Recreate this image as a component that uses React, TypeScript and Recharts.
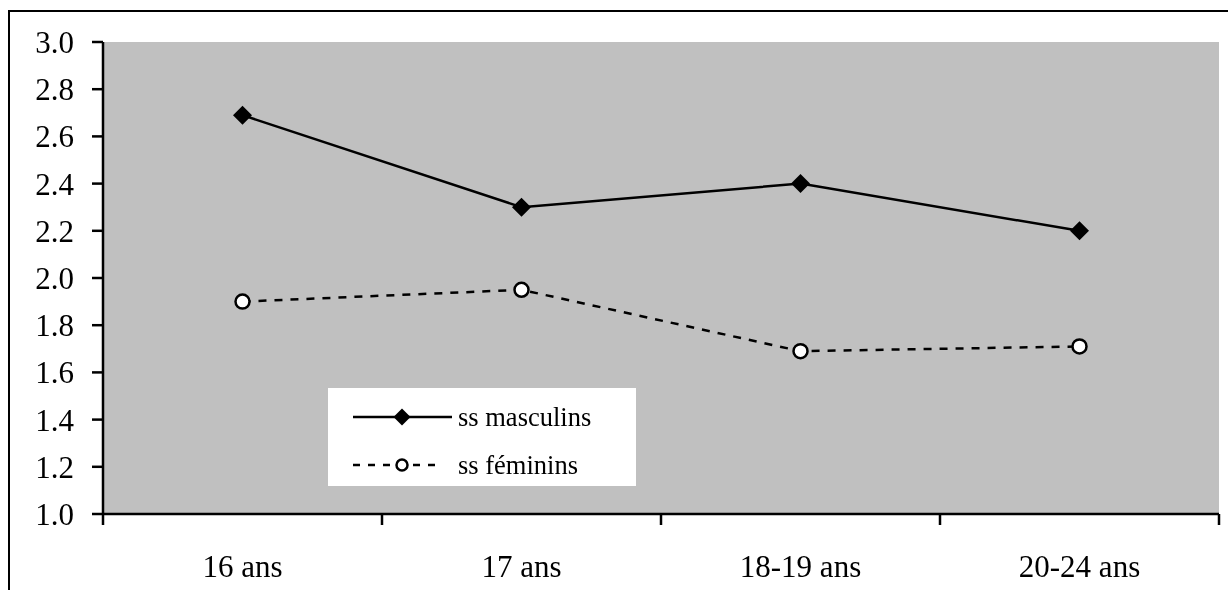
import { CartesianGrid, ComposedChart, Legend, Line, XAxis, YAxis } from 'recharts';

const ageGroups = ['16 ans', '17 ans', '18-19 ans', '20-24 ans'];
const masculins = [2.69, 2.3, 2.4, 2.2];
const feminins = [1.9, 1.95, 1.69, 1.71];
const yTicks = [1.0, 1.2, 1.4, 1.6, 1.8, 2.0, 2.2, 2.4, 2.6, 2.8, 3.0];

const data = ageGroups.map((age, i) => ({
  age,
  masculins: masculins[i],
  feminins: feminins[i],
}));

const FONT = '"Liberation Serif", "Times New Roman", serif';
const LABEL_GAP = 41;
const TICK_LEN = 11;

function diamondPoints(cx: number, cy: number, r: number) {
  return `${cx},${cy - r} ${cx + r},${cy} ${cx},${cy + r} ${cx - r},${cy}`;
}

function DiamondDot(props: any) {
  const { cx, cy } = props;
  if (cx == null || cy == null) return null;
  return <polygon points={diamondPoints(cx, cy, 9.5)} fill="#000" />;
}

function CircleDot(props: any) {
  const { cx, cy } = props;
  if (cx == null || cy == null) return null;
  return <circle cx={cx} cy={cy} r={7} fill="#fff" stroke="#000" strokeWidth={2.5} />;
}

// category label plus tick marks at the band edges (Excel style)
function CategoryTick(props: any) {
  const { x, y, payload, index, visibleTicksCount } = props;
  const half = payload?.offset ?? 0;
  const axisY = y - LABEL_GAP;
  const isLast = index === visibleTicksCount - 1;
  return (
    <g>
      <line x1={x - half} x2={x - half} y1={axisY} y2={axisY + TICK_LEN} stroke="#000" strokeWidth={2.5} />
      {isLast && (
        <line x1={x + half} x2={x + half} y1={axisY} y2={axisY + TICK_LEN} stroke="#000" strokeWidth={2.5} />
      )}
      <text x={x} y={y} dy="0.71em" textAnchor="middle" fontFamily={FONT} fontSize={31} fill="#000">
        {payload.value}
      </text>
    </g>
  );
}

function LegendBox() {
  return (
    <div style={{ width: 308, height: 98, background: '#fff' }}>
      <svg width={308} height={98} style={{ display: 'block' }}>
        <line x1={25} x2={124} y1={29} y2={29} stroke="#000" strokeWidth={2.5} />
        <polygon points={diamondPoints(74, 29, 8.5)} fill="#000" />
        <text x={130} y={29} dy="0.35em" fontFamily={FONT} fontSize={26.5} fill="#000">
          ss masculins
        </text>
        <line x1={25} x2={112} y1={77} y2={77} stroke="#000" strokeWidth={2.5} strokeDasharray="7 8" />
        <circle cx={74} cy={77} r={5.5} fill="#fff" stroke="#000" strokeWidth={2.5} />
        <text x={130} y={77} dy="0.35em" fontFamily={FONT} fontSize={26.5} fill="#000">
          ss féminins
        </text>
      </svg>
    </div>
  );
}

export default function App() {
  const tickStyle = { fill: '#000', fontSize: 31, fontFamily: FONT };
  const lineStyle = { stroke: '#000', strokeWidth: 2.5 };
  return (
    <>
      <div
        style={{
          position: 'fixed',
          left: 8,
          top: 10,
          width: 2000,
          height: 2000,
          borderTop: '2px solid #000',
          borderLeft: '2px solid #000',
        }}
      />
      <div style={{ position: 'absolute', left: 0, top: 0, width: 1228, height: 590 }}>
        <ComposedChart
          width={1228}
          height={590}
          data={data}
          margin={{ top: 42, right: 9, bottom: 0, left: 0 }}
        >
          <CartesianGrid fill="#C0C0C0" horizontal={false} vertical={false} stroke="none" />
          <XAxis
            dataKey="age"
            type="category"
            scale="band"
            height={76}
            tickLine={false}
            tickSize={0}
            tickMargin={LABEL_GAP}
            axisLine={lineStyle}
            tick={<CategoryTick />}
            interval={0}
          />
          <YAxis
            domain={[1, 3]}
            ticks={yTicks}
            width={103}
            tickSize={11}
            tickMargin={18}
            tickFormatter={(v: number) => v.toFixed(1)}
            axisLine={lineStyle}
            tickLine={lineStyle}
            tick={tickStyle}
            interval={0}
          />
          <Legend
            layout="horizontal"
            verticalAlign="middle"
            align="center"
            content={() => <LegendBox />}
            wrapperStyle={{ left: 328, top: 388, width: 308, height: 98 }}
          />
          <Line
            dataKey="masculins"
            stroke="#000"
            strokeWidth={2.5}
            dot={(p: any) => <DiamondDot key={`m-${p.index}`} {...p} />}
            activeDot={false}
            isAnimationActive={false}
          />
          <Line
            dataKey="feminins"
            stroke="#000"
            strokeWidth={2.5}
            strokeDasharray="8 8"
            dot={(p: any) => <CircleDot key={`f-${p.index}`} {...p} />}
            activeDot={false}
            isAnimationActive={false}
          />
        </ComposedChart>
      </div>
    </>
  );
}
